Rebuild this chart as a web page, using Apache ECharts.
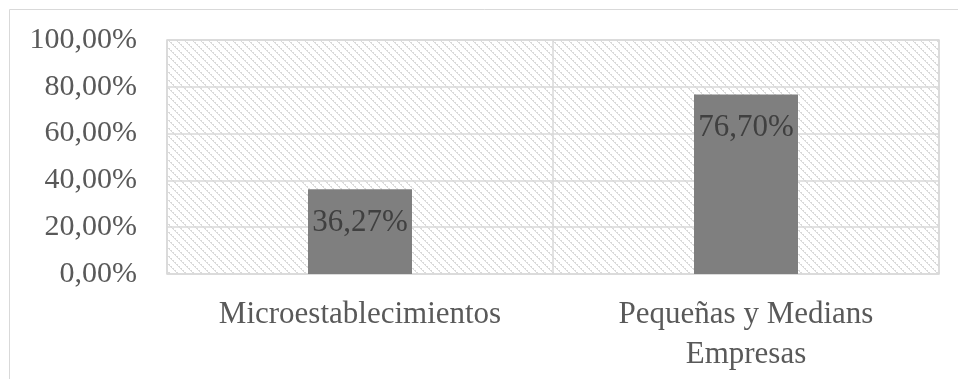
<!DOCTYPE html>
<html>
<head>
<meta charset="utf-8">
<script src="https://cdn.jsdelivr.net/npm/echarts@6/dist/echarts.min.js"></script>
<style>
html,body{margin:0;padding:0;background:#fff;}
#c{width:958px;height:379px;}
</style>
</head>
<body>
<div id="c"></div>
<script>
var categories = ['Microestablecimientos', 'Pequeñas y Medians\nEmpresas'];
var values = [36.27, 76.70];
var yTicks = [0, 20, 40, 60, 80, 100];

function fmt(v){ return v.toFixed(2).replace('.', ',') + '%'; }

var tile = document.createElement('canvas');
tile.width = 8; tile.height = 8;
var tctx = tile.getContext('2d');
tctx.fillStyle = '#ffffff';
tctx.fillRect(0,0,8,8);
tctx.fillStyle = '#dadada';
for (var i = 0; i < 8; i++) { tctx.fillRect(i, i, 1, 1); if (i % 2 === 0) tctx.fillRect((i+1)%8, i, 1, 1); }

var chart = echarts.init(document.getElementById('c'), null, {renderer:'canvas'});
var font = 'Liberation Serif';
chart.setOption({
  animation: false,
  graphic: [{
    type: 'rect', shape: {x: 9.5, y: 9.5, width: 960, height: 380},
    style: {fill: 'none', stroke: '#d9d9d9', lineWidth: 1}, z: 0
  }],
  grid: {
    left: 167, right: 19, top: 40, bottom: 105,
    show: true, borderColor: '#d9d9d9', borderWidth: 1.5,
    backgroundColor: {image: tile, repeat: 'repeat'}
  },
  xAxis: {
    type: 'category', data: categories,
    axisLine: {show: false}, axisTick: {show: false},
    splitLine: {show: true, lineStyle: {color: '#d9d9d9', width: 1.5}},
    axisLabel: {fontFamily: font, fontSize: 31, color: '#595959', margin: 21, lineHeight: 40}
  },
  yAxis: {
    type: 'value', min: 0, max: 100, interval: 20,
    axisLine: {show: false}, axisTick: {show: false},
    splitLine: {lineStyle: {color: '#d9d9d9', width: 1.5}},
    axisLabel: {fontFamily: font, fontSize: 30, color: '#595959', margin: 30,
      formatter: function(v){ return fmt(v); }}
  },
  series: [{
    type: 'bar', data: values, barWidth: 104,
    itemStyle: {color: '#7f7f7f'},
    label: {show: true, position: 'insideTop', distance: 18,
      fontFamily: font, fontSize: 31, color: '#404040',
      formatter: function(p){ return fmt(p.value); }}
  }]
});
</script>
</body>
</html>
